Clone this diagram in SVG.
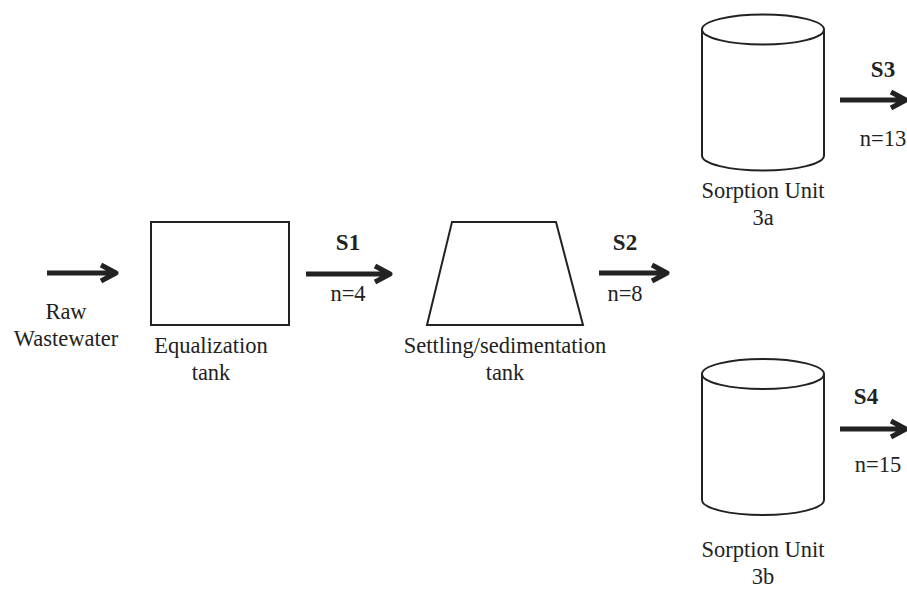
<svg xmlns="http://www.w3.org/2000/svg" width="907" height="590" viewBox="0 0 907 590">
  <style>
    .shape { fill: #ffffff; stroke: #222222; stroke-width: 2; }
    .flow { fill: none; stroke: #222222; stroke-width: 5; stroke-linejoin: round; }
    text { font-family: "Liberation Serif", "Times New Roman", serif; font-size: 22.5px; fill: #222222; text-anchor: middle; }
    .stream { font-weight: bold; font-size: 23px; }
  </style>
  <rect width="907" height="590" fill="#ffffff"/>

  <!-- Flow arrows -->
  <g id="connectors">
    <path class="flow" d="M47 273 H116 M101 265 L116 273 L101 281"/>
    <path class="flow" d="M306 274 H390 M375 266 L390 274 L375 282"/>
    <path class="flow" d="M599 273 H667 M652 265 L667 273 L652 281"/>
    <path class="flow" d="M840 100 H906 M891 92 L906 100 L891 108"/>
    <path class="flow" d="M840 429 H906 M891 421 L906 429 L891 437"/>
  </g>

  <g id="raw-wastewater">
    <text x="66" y="319">Raw</text>
    <text x="66" y="346">Wastewater</text>
  </g>

  <g id="equalization-tank">
    <rect class="shape" x="151" y="222" width="138" height="103"/>
    <text x="211" y="353">Equalization</text>
    <text x="211" y="380">tank</text>
  </g>

  <g id="s1">
    <text class="stream" x="348" y="250">S1</text>
    <text x="348" y="301">n=4</text>
  </g>

  <g id="settling-tank">
    <polygon class="shape" points="452,222 556,222 583,325 427,325"/>
    <text x="505" y="353">Settling/sedimentation</text>
    <text x="505" y="380">tank</text>
  </g>

  <g id="s2">
    <text class="stream" x="625" y="250">S2</text>
    <text x="625" y="301">n=8</text>
  </g>

  <g id="sorption-3a">
    <path class="shape" d="M702 29.5 V155.5 A61 15 0 0 0 824 155.5 V29.5"/>
    <ellipse class="shape" cx="763" cy="29.5" rx="61" ry="15"/>
    <text x="763" y="198">Sorption Unit</text>
    <text x="763" y="225">3a</text>
  </g>

  <g id="s3">
    <text class="stream" x="883" y="77">S3</text>
    <text x="883" y="146">n=13</text>
  </g>

  <g id="sorption-3b">
    <path class="shape" d="M702 374 V500 A61 15 0 0 0 824 500 V374"/>
    <ellipse class="shape" cx="763" cy="374" rx="61" ry="15"/>
    <text x="763" y="557">Sorption Unit</text>
    <text x="763" y="584">3b</text>
  </g>

  <g id="s4">
    <text class="stream" x="866" y="404">S4</text>
    <text x="878" y="472">n=15</text>
  </g>
</svg>
